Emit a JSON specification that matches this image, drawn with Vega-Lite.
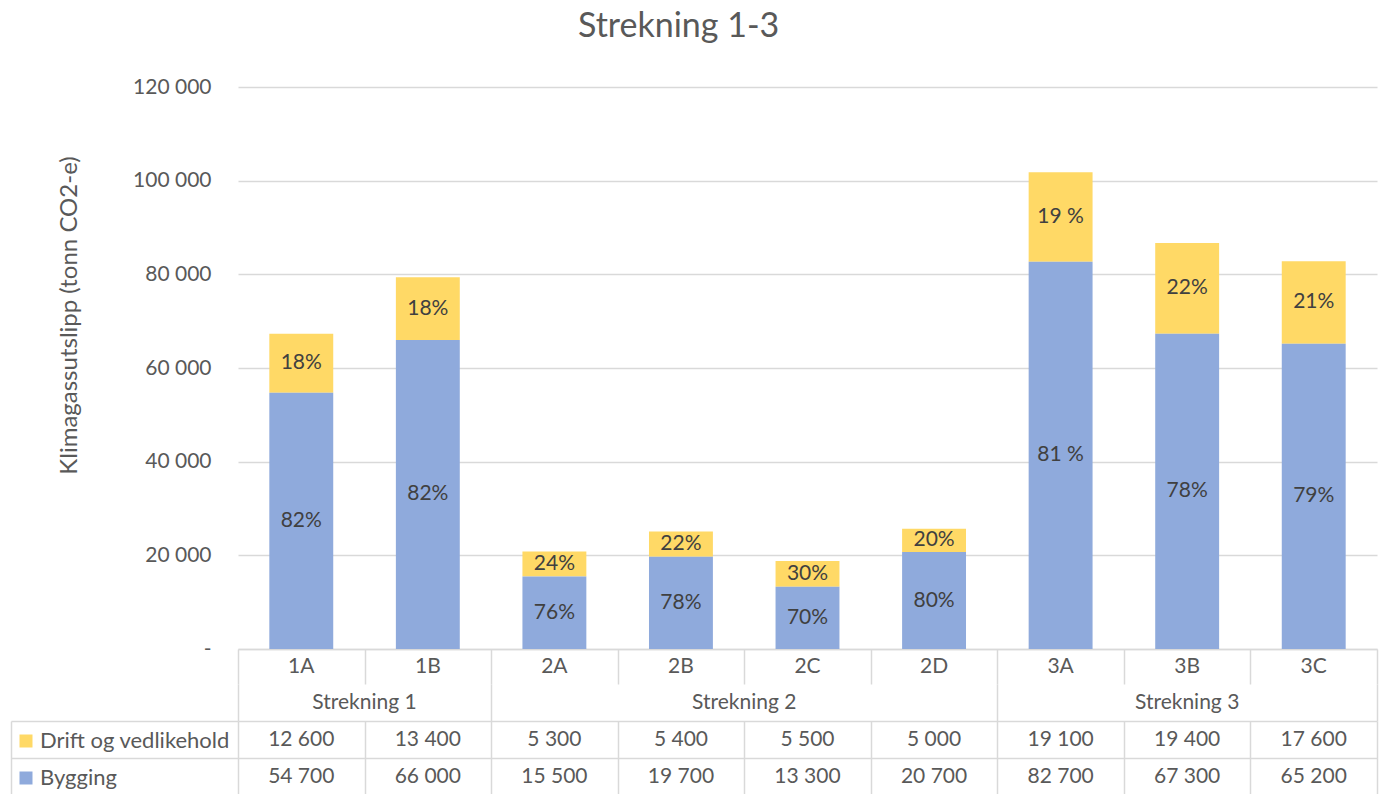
{
  "$schema": "https://vega.github.io/schema/vega-lite/v6.json",
  "padding": {"left": 10, "top": 10, "right": 4, "bottom": 0},
  "background": "white",
  "config": {
    "font": "Lato",
    "view": {"stroke": null},
    "locale": {"number": {"decimal": ",", "thousands": " ", "grouping": [3], "currency": ["", ""]}},
    "text": {"font": "Lato"}
  },
  "title": {"text": "Strekning 1-3", "fontSize": 34, "fontWeight": "normal", "color": "#595959", "anchor": "middle", "offset": 32, "dx": -15},
  "datasets": {
    "main": [
      {"cat": "1A", "group": "Strekning 1", "serie": "Drift og vedlikehold", "value": 12600, "pct": "18%"},
      {"cat": "1A", "group": "Strekning 1", "serie": "Bygging", "value": 54700, "pct": "82%"},
      {"cat": "1B", "group": "Strekning 1", "serie": "Drift og vedlikehold", "value": 13400, "pct": "18%"},
      {"cat": "1B", "group": "Strekning 1", "serie": "Bygging", "value": 66000, "pct": "82%"},
      {"cat": "2A", "group": "Strekning 2", "serie": "Drift og vedlikehold", "value": 5300, "pct": "24%"},
      {"cat": "2A", "group": "Strekning 2", "serie": "Bygging", "value": 15500, "pct": "76%"},
      {"cat": "2B", "group": "Strekning 2", "serie": "Drift og vedlikehold", "value": 5400, "pct": "22%"},
      {"cat": "2B", "group": "Strekning 2", "serie": "Bygging", "value": 19700, "pct": "78%"},
      {"cat": "2C", "group": "Strekning 2", "serie": "Drift og vedlikehold", "value": 5500, "pct": "30%"},
      {"cat": "2C", "group": "Strekning 2", "serie": "Bygging", "value": 13300, "pct": "70%"},
      {"cat": "2D", "group": "Strekning 2", "serie": "Drift og vedlikehold", "value": 5000, "pct": "20%"},
      {"cat": "2D", "group": "Strekning 2", "serie": "Bygging", "value": 20700, "pct": "80%"},
      {"cat": "3A", "group": "Strekning 3", "serie": "Drift og vedlikehold", "value": 19100, "pct": "19 %"},
      {"cat": "3A", "group": "Strekning 3", "serie": "Bygging", "value": 82700, "pct": "81 %"},
      {"cat": "3B", "group": "Strekning 3", "serie": "Drift og vedlikehold", "value": 19400, "pct": "22%"},
      {"cat": "3B", "group": "Strekning 3", "serie": "Bygging", "value": 67300, "pct": "78%"},
      {"cat": "3C", "group": "Strekning 3", "serie": "Drift og vedlikehold", "value": 17600, "pct": "21%"},
      {"cat": "3C", "group": "Strekning 3", "serie": "Bygging", "value": 65200, "pct": "79%"}
    ]
  },
  "spacing": 0,
  "bounds": "flush",
  "resolve": {"scale": {"x": "independent", "y": "independent", "color": "independent"}},
  "vconcat": [
    {
      "width": 1139,
      "height": 562,
      "data": {"name": "main"},
      "transform": [
        {"stack": "value", "groupby": ["cat"], "sort": [{"field": "serie", "order": "ascending"}], "as": ["v0", "v1"]},
        {"calculate": "(datum.v0 + datum.v1) / 2", "as": "vmid"}
      ],
      "layer": [
        {
          "mark": {"type": "bar"},
          "encoding": {
            "x": {"field": "cat", "type": "nominal", "scale": {"paddingInner": 0.495, "paddingOuter": 0.2475},
              "axis": {"title": null, "labels": false, "ticks": false, "grid": false, "domain": true, "domainColor": "#d9d9d9", "domainWidth": 1.5}},
            "y": {"field": "v1", "type": "quantitative", "scale": {"domain": [0, 120000], "nice": false},
              "axis": {"title": "Klimagassutslipp (tonn CO2-e)", "values": [0, 20000, 40000, 60000, 80000, 100000, 120000],
                "labelExpr": "datum.value === 0 ? '-\u00a0\u00a0' : format(datum.value, ',')",
                "labelFontSize": 21, "labelColor": "#595959", "labelPadding": 27, "ticks": false, "domain": false,
                "grid": true, "gridColor": "#d9d9d9", "gridWidth": 1.5,
                "titleFontSize": 24, "titleColor": "#595959", "titleFontWeight": "normal",
                "titleX": -169, "titleY": 228, "titleBaseline": "middle", "titleAlign": "center", "titleAngle": -90}},
            "y2": {"field": "v0"},
            "color": {"field": "serie", "type": "nominal",
              "scale": {"domain": ["Drift og vedlikehold", "Bygging"], "range": ["#FFD966", "#8FAADC"]},
              "legend": {"orient": "none", "legendX": -223, "legendY": 643, "title": null, "symbolType": "square", "symbolSize": 169,
                "symbolStrokeWidth": 0, "labelFontSize": 22, "labelColor": "#595959", "labelLimit": 400, "rowPadding": 15, "labelOffset": 3, "direction": "vertical"}}
          }
        },
        {
          "mark": {"type": "text", "fontSize": 21, "color": "#404040", "baseline": "middle"},
          "encoding": {
            "x": {"field": "cat", "type": "nominal"},
            "y": {"field": "vmid", "type": "quantitative"},
            "text": {"field": "pct", "type": "nominal"}
          }
        }
      ]
    },
    {
      "width": 1139,
      "height": 35,
      "data": {"name": "main"},
      "transform": [{"filter": "datum.serie === 'Bygging'"}],
      "mark": {"type": "text", "fontSize": 21, "color": "#595959", "baseline": "middle"},
      "encoding": {
        "x": {"field": "cat", "type": "nominal", "scale": {"padding": 0},
          "axis": {"title": null, "labels": false, "ticks": false, "domain": false, "grid": true, "tickBand": "extent", "gridColor": "#d9d9d9", "gridWidth": 1.5}},
        "text": {"field": "cat", "type": "nominal"}
      }
    },
    {
      "width": 1139,
      "height": 37,
      "data": {"name": "main"},
      "transform": [
        {"filter": "datum.serie === 'Bygging'"},
        {"window": [{"op": "row_number", "as": "idx"}], "sort": [{"field": "cat", "order": "ascending"}]}
      ],
      "mark": {"type": "text", "fontSize": 21, "color": "#595959", "baseline": "middle"},
      "encoding": {
        "x": {"aggregate": "mean", "field": "idx", "type": "quantitative", "scale": {"domain": [0.5, 9.5], "nice": false, "zero": false},
          "axis": {"title": null, "labels": false, "ticks": false, "domain": false, "grid": true, "values": [0.5, 2.5, 6.5, 9.5], "gridColor": "#d9d9d9", "gridWidth": 1.5}},
        "text": {"field": "group", "type": "nominal"}
      }
    },
    {
      "width": 1139,
      "height": 74,
      "data": {"name": "main"},
      "mark": {"type": "text", "fontSize": 21, "color": "#595959", "baseline": "middle"},
      "encoding": {
        "x": {"field": "cat", "type": "nominal", "scale": {"padding": 0},
          "axis": {"title": null, "labels": false, "ticks": false, "domain": false, "grid": true, "tickBand": "extent", "gridColor": "#d9d9d9", "gridWidth": 1.5}},
        "y": {"field": "serie", "type": "nominal", "scale": {"domain": ["Drift og vedlikehold", "Bygging"], "padding": 0},
          "axis": {"title": null, "labels": false, "domain": true, "domainColor": "#d9d9d9", "domainWidth": 1.5, "offset": 227,
            "ticks": true, "tickSize": -227, "tickColor": "#d9d9d9", "tickWidth": 1.5, "tickBand": "extent",
            "grid": true, "gridColor": "#d9d9d9", "gridWidth": 1.5}},
        "text": {"field": "value", "type": "quantitative", "format": ","}
      }
    }
  ]
}
